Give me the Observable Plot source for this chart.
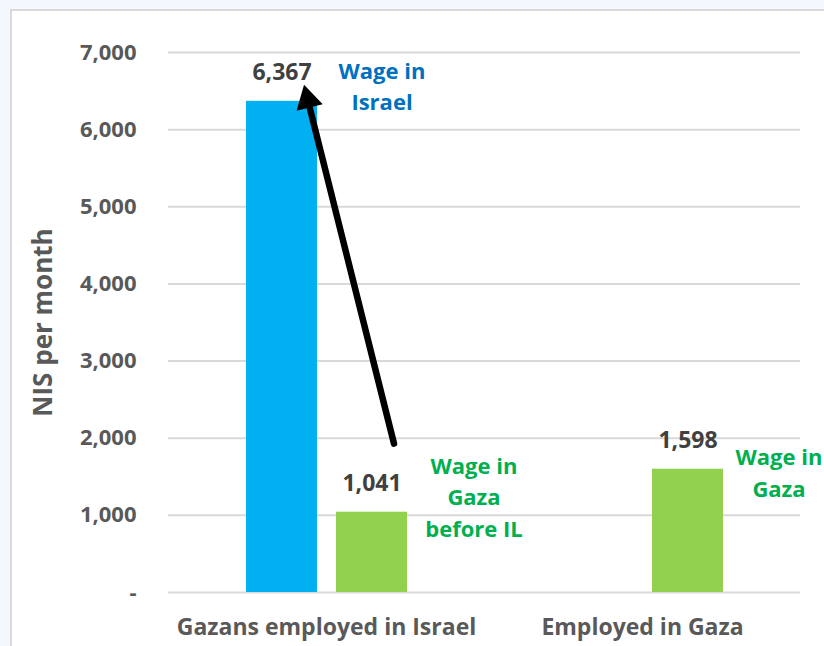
<!DOCTYPE html>
<html>
<head>
<meta charset="utf-8">
<script src="https://cdn.jsdelivr.net/npm/d3@7"></script>
<script src="https://cdn.jsdelivr.net/npm/@observablehq/plot@0.6"></script>
<style>
  html, body { margin: 0; padding: 0; background: #f4f7fd; overflow: hidden; }
  #wrap { position: relative; width: 824px; height: 646px; }
  #frame { position: absolute; left: 10px; top: 9px; width: 900px; height: 720px;
           background: #ffffff; border: 2px solid #d9d9d9; }
  #chart { position: absolute; left: 0; top: 0; }
</style>
</head>
<body>
<div id="wrap"><div id="frame"></div><div id="chart"></div></div>
<script>
// ---- data ----
const categories = ["Gazans employed in Israel", "Employed in Gaza"];
const seriesNames = ["Wage in Israel", "Wage in Gaza"];
const barCategories = ["Gazans employed in Israel", "Gazans employed in Israel", "Employed in Gaza"];
const barSeries = ["Wage in Israel", "Wage in Gaza", "Wage in Gaza"];
const barValues = [6367, 1041, 1598];
const yTicks = [0, 1000, 2000, 3000, 4000, 5000, 6000, 7000];
const yLabel = "NIS per month";
const annLabels = ["Wage in\nIsrael", "Wage in\nGaza\nbefore IL", "Wage in\nGaza"];
// arrow: from above the "Wage in Gaza" bar up to the "Wage in Israel" bar
const arrowSeries = ["Wage in Gaza", "Wage in Israel"];
const arrowValues = [1930, 6580];

// ---- build table ----
const bars = barValues.map((v, i) => ({category: barCategories[i], series: barSeries[i], value: v}));
const anns = annLabels.map((t, i) => ({...bars[i], label: t}));

// styles
const seriesColors = ["#00b0f0", "#92d050"];
const annColors = ["#0070c0", "#00b050", "#00b050"];
const annDx = [100, 102, 91];
const annDy = [-17, -17, 2];
const font = "'Open Sans', sans-serif";

const marks = [
  Plot.ruleY(yTicks, {stroke: "#d9d9d9", strokeWidth: 2}),
  Plot.barY(bars, {fx: "category", x: "series", y: "value", fill: "series"}),
  Plot.text(bars, {fx: "category", x: "series", y: "value",
    text: d => d3.format(",")(d.value), dy: -29, fontSize: 23, fontWeight: 700, fill: "#404040"}),
  // arrow shaft
  Plot.arrow([0], {fx: () => categories[0],
    x1: () => arrowSeries[0], y1: () => arrowValues[0],
    x2: () => arrowSeries[1], y2: () => arrowValues[1],
    dx: 22, stroke: "#000", strokeWidth: 6.5, headLength: 0, insetEnd: 15}),
  // filled arrowhead
  Plot.dot([0], {fx: () => categories[0],
    x: () => arrowSeries[1], y: () => arrowValues[1],
    symbol: "triangle", r: 10, fill: "#000", stroke: "none", rotate: -14,
    dx: 25.8, dy: 15}),
  Plot.text([yLabel], {fx: () => categories[0], frameAnchor: "left", rotate: -90,
    textAnchor: "middle", lineAnchor: "middle",
    dx: -125, fontSize: 26, fontWeight: 700, fill: "#595959"})
];
anns.forEach((a, i) => {
  marks.push(Plot.text([a], {fx: "category", x: "series", y: "value", text: "label",
    dx: annDx[i], dy: annDy[i], fill: annColors[i], fontSize: 22, fontWeight: 700,
    lineHeight: 1.45}));
});

const chart = Plot.plot({
  width: 824,
  height: 646,
  marginLeft: 168,
  marginRight: 24,
  marginTop: 52,
  marginBottom: 54,
  style: {fontFamily: font, fontSize: "22px", fontWeight: 700, color: "#595959", background: "transparent", overflow: "visible"},
  fx: {domain: categories, padding: 0, label: null, axis: "bottom", tickSize: 0, tickPadding: 26},
  x: {domain: seriesNames, paddingInner: 0.215, paddingOuter: 0.853, axis: null},
  y: {domain: [0, 7000], ticks: yTicks, tickFormat: d => d === 0 ? "-" : d3.format(",")(d),
      tickSize: 0, tickPadding: 32, label: null, line: false},
  color: {domain: seriesNames, range: seriesColors},
  marks
});
document.getElementById("chart").appendChild(chart);
// category labels slightly larger than tick labels
chart.querySelectorAll("g[aria-label='fx-axis tick label'] text, g[aria-label='fx-axis'] text").forEach(t => t.setAttribute("font-size", "23"));
</script>
</body>
</html>
